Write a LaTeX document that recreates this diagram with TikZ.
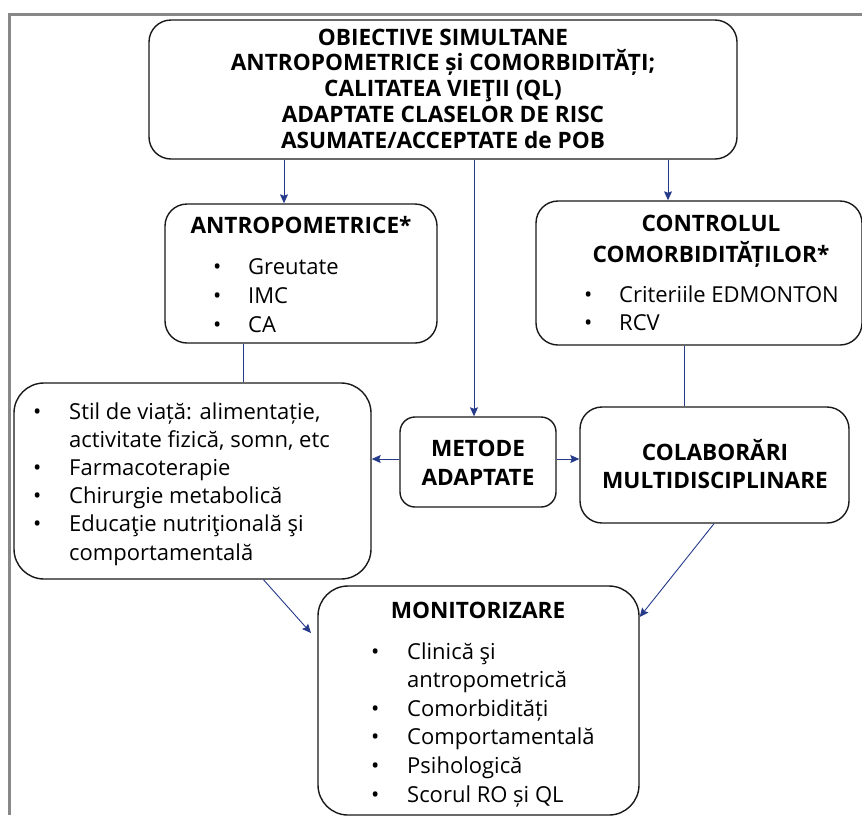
\documentclass[tikz,border=0pt]{standalone}
\usepackage{fontspec}
\setmainfont{Open Sans}
\usetikzlibrary{arrows.meta}
\definecolor{linkblue}{RGB}{38,58,138}
\definecolor{framegray}{RGB}{136,136,136}
\definecolor{boxline}{RGB}{25,25,25}

\begin{document}
\begin{tikzpicture}[x=1pt,y=-1pt,
  box/.style={draw=boxline,line width=1.4pt,rounded corners=#1,inner sep=0pt,fill=white},
  box/.default=22pt,
  % multi-line headings: the base anchor sits on the last line
  heading/.style={font=\bfseries\fontsize{22.6}{#1}\selectfont,align=center,inner sep=0pt,anchor=base},
  heading/.default=26,
  itemlist/.style={font=\fontsize{22}{#1}\selectfont,inner sep=0pt,anchor=base west},
  itemlist/.default=28.5,
  link/.style={draw=linkblue,line width=0.9pt},
  arrowlink/.style={link,-{Stealth[length=9pt,width=8pt,inset=1.5pt]}},
]
\useasboundingbox (0,0) rectangle (862,815);
\fill[white] (0,0) rectangle (862,815);
% page frame (top and left rules)
\draw[framegray,line width=3pt] (862,14) -- (9.5,14) -- (9.5,815);

% ---------- boxes ----------
\node[box=22pt,minimum width=588pt,minimum height=139pt] (goals) at (443,89.5) {};
\node[box=22pt,minimum width=272pt,minimum height=139pt] (anthro) at (301,273.5) {};
\node[box=22pt,minimum width=326pt,minimum height=144pt] (comorb) at (699,273) {};
\node[box=30pt,minimum width=357pt,minimum height=196pt] (methods) at (192.5,481) {};
\node[box=15pt,minimum width=156pt,minimum height=90pt] (adapted) at (478,462) {};
\node[box=22pt,minimum width=269pt,minimum height=116pt] (collab) at (714.5,465) {};
\node[box=30pt,minimum width=321pt,minimum height=229pt] (monitor) at (478.5,700.5) {};

% ---------- texts ----------
\node[heading=25.75] (goalstext) at (443,148)
  {OBIECTIVE SIMULTANE\\ANTROPOMETRICE și COMORBIDITĂȚI;\\CALITATEA VIEŢII (QL)\\ADAPTATE CLASELOR DE RISC\\ASUMATE/ACCEPTATE de POB};

\node[heading] (anthrohead) at (301,233) {ANTROPOMETRICE*};
\node[itemlist=29] (anthrolist) at (213,274)
  {\begin{tabular}[t]{@{}p{35pt}@{}l@{}}•&Greutate\\•&IMC\\•&CA\end{tabular}};

\node[heading=31] (comorbhead) at (711,262) {CONTROLUL\\COMORBIDITĂȚILOR*};
\node[itemlist=28] (comorblist) at (584,302)
  {\begin{tabular}[t]{@{}p{35pt}@{}l@{}}•&Criteriile EDMONTON\\•&RCV\end{tabular}};

\node[itemlist=28.2] (methodlist) at (33,419)
  {\begin{tabular}[t]{@{}p{36pt}@{}l@{}}•&Stil de viață: alimentație,\\&activitate fizică, somn, etc\\•&Farmacoterapie\\•&Chirurgie metabolică\\•&Educaţie nutriţională şi\\&comportamentală\end{tabular}};

\node[heading=29] (adaptedtext) at (478,485) {METODE\\ADAPTATE};
\node[heading=28] (collabtext) at (715,488) {COLABORĂRI\\MULTIDISCIPLINARE};

\node[heading] (monitorhead) at (478,618) {MONITORIZARE};
\node[itemlist=28.6] (monitorlist) at (371,659)
  {\begin{tabular}[t]{@{}p{36pt}@{}l@{}}•&Clinică şi\\&antropometrică\\•&Comorbidități\\•&Comportamentală\\•&Psihologică\\•&Scorul RO și QL\end{tabular}};

% ---------- connectors ----------
\draw[arrowlink] ([xshift=-17pt]anthro.north |- goals.south) -- ([xshift=-17pt]anthro.north);
\draw[arrowlink] ([xshift=-4pt]adapted.north |- goals.south) -- ([xshift=-4pt]adapted.north);
\draw[arrowlink] ([xshift=-31pt]comorb.north |- goals.south) -- ([xshift=-31pt]comorb.north);
\draw[link] ([xshift=-58pt]anthro.south) -- ([xshift=-58pt]anthro.south |- methods.north);
\draw[link] ([xshift=-15pt]comorb.south) -- ([xshift=-15pt]comorb.south |- collab.north);
\draw[arrowlink] (adapted.west |- 0,459) -- (methods.east |- 0,459);
\draw[arrowlink] (adapted.east |- 0,459) -- (collab.west |- 0,459);
\coordinate (monitorleft) at (311,633);
\draw[arrowlink] ([xshift=71pt]methods.south) -- (monitorleft);
\draw[arrowlink] ([xshift=-0.5pt]collab.south) -- (monitor.east |- 0,617);
\end{tikzpicture}
\end{document}
